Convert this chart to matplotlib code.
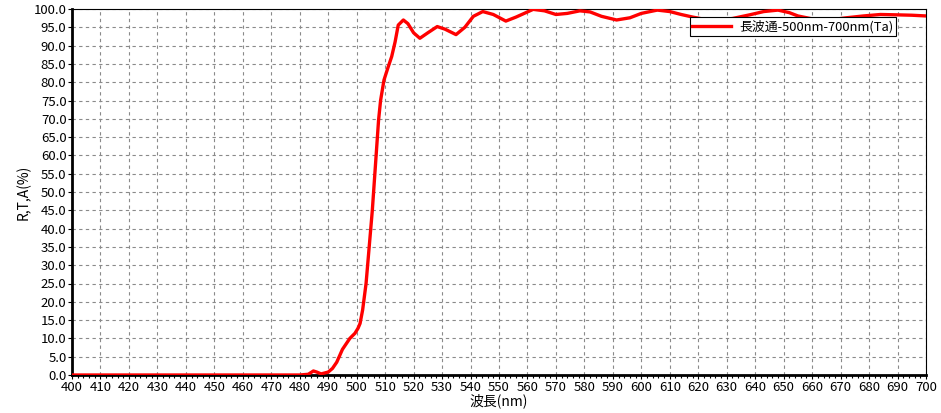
import matplotlib
matplotlib.use("Agg")
import matplotlib.pyplot as plt
from matplotlib.ticker import MultipleLocator, FormatStrFormatter

plt.rcParams['font.family'] = ['Noto Sans CJK JP', 'DejaVu Sans']

# 波長 (nm) と 透過率 (%)
wavelength = [400, 480, 483, 484.8, 486, 487.5, 490, 491.5, 493, 495, 497.6,
              499.4, 500.5, 501.2, 502.1, 503.3, 504.4, 505.5, 506.8, 507.7,
              508.4, 509.6, 511, 512.3, 513.5, 514.6, 516.4, 518, 520, 522.2,
              525, 528.3, 531, 534.9, 538, 541, 544.3, 548, 552.4, 556, 562,
              566, 570, 574, 578.4, 582, 586, 591.3, 596, 600, 605.6, 610,
              614, 618, 622, 627, 632, 638, 643, 648, 652, 655, 660, 666, 672,
              678, 684, 690, 695, 700]
transmit = [0.0, 0.0, 0.2, 1.1, 0.8, 0.3, 0.8, 1.8, 3.5, 7.0, 10.0,
            11.4, 12.8, 14.1, 17.8, 25.0, 35.0, 45.0, 59.6, 69.7,
            75.0, 80.6, 84.0, 87.0, 91.0, 95.6, 97.0, 96.0, 93.5, 92.0,
            93.5, 95.2, 94.5, 93.0, 95.0, 98.0, 99.3, 98.5, 96.7, 97.8, 99.9,
            99.5, 98.5, 98.8, 99.5, 99.2, 98.0, 97.0, 97.6, 98.8, 99.7, 99.3,
            98.5, 97.8, 97.2, 97.0, 97.4, 98.4, 99.3, 99.7, 99.0, 98.1, 97.3, 97.0, 97.6,
            98.1, 98.5, 98.4, 98.3, 98.1]
series_name = '長波通-500nm-700nm(Ta)'

fig = plt.figure(figsize=(9.41, 4.13), dpi=100)
ax = fig.add_axes([72/941, 1 - 375/413, (926 - 72)/941, (375 - 9)/413])

ax.plot(wavelength, transmit, color='#ff0000', lw=2.4, label=series_name,
        solid_joinstyle='round', zorder=3)

ax.set_xlim(400, 700)
ax.set_ylim(0, 100)
ax.xaxis.set_major_locator(MultipleLocator(10))
ax.xaxis.set_minor_locator(MultipleLocator(2))
ax.yaxis.set_major_locator(MultipleLocator(5))
ax.yaxis.set_major_formatter(FormatStrFormatter('%.1f'))
ax.grid(True, which='major', ls=(0, (3, 3)), color='#8a8a8a', lw=0.8)

for s in ['top', 'right']:
    ax.spines[s].set_linewidth(0.8)
for s in ['left', 'bottom']:
    ax.spines[s].set_linewidth(2.0)

ax.tick_params(axis='both', which='major', labelsize=9.5, length=3, width=0.8, pad=1)
ax.tick_params(axis='x', which='minor', length=2, width=0.8)
ax.tick_params(axis='y', which='both', direction='out')

ax.set_xlabel('波長(nm)', fontsize=10, labelpad=0)
ax.set_ylabel('R,T,A(%)', fontsize=10, labelpad=2)

leg = ax.legend(loc='upper right', bbox_to_anchor=(0.9645, 0.977), fontsize=9.3,
                fancybox=False, framealpha=1, edgecolor='black',
                borderpad=0.2, handlelength=3.0, handletextpad=0.6,
                borderaxespad=0)
leg.get_frame().set_linewidth(0.8)

fig.savefig('out.png', dpi=100)
